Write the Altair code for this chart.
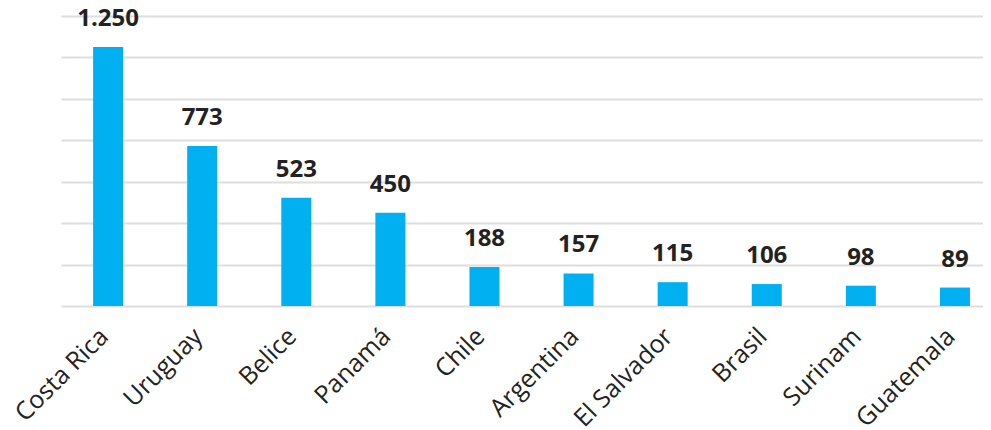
import altair as alt
import pandas as pd

countries = ["Costa Rica", "Uruguay", "Belice", "Panamá", "Chile", "Argentina",
             "El Salvador", "Brasil", "Surinam", "Guatemala"]
values = [1250, 773, 523, 450, 188, 157, 115, 106, 98, 89]

df = pd.DataFrame({"pais": countries, "valor": values})

FONT = "Open Sans"

x = alt.X("pais:N", sort=countries, title=None,
          scale=alt.Scale(paddingInner=0.681, paddingOuter=0.24, align=0.711),
          axis=alt.Axis(labelAngle=-45, labelAlign="right", labelBaseline="middle",
                        labelFontSize=25, labelFont=FONT, labelColor="#222222",
                        labelPadding=26, labelOffset=-4, ticks=False, domain=False,
                        grid=False, labelOverlap=False, labelLimit=300))
y = alt.Y("valor:Q", title=None,
          scale=alt.Scale(domain=[0, 1400], nice=False),
          axis=alt.Axis(values=[0, 200, 400, 600, 800, 1000, 1200, 1400],
                        labels=False, ticks=False, domain=False, grid=True,
                        gridColor="#dedede", gridWidth=2))

base = alt.Chart(df).encode(x=x, y=y)

bars = base.mark_bar(color="#00B0F0")
labels = base.mark_text(dy=-16, baseline="bottom", fontSize=24, fontWeight="bold",
                        font=FONT, color="#222222").transform_calculate(
    lbl="replace(format(datum.valor, ','), ',', '.')"
).encode(text="lbl:N")

chart = (bars + labels).properties(
    width=922, height=290,
    autosize=alt.AutoSizeParams(type="none"),
    padding={"left": 53, "top": 8, "right": 0, "bottom": 124},
).configure_view(stroke=None)

chart.save("out.html", embed_options={"renderer": "svg", "actions": False})
